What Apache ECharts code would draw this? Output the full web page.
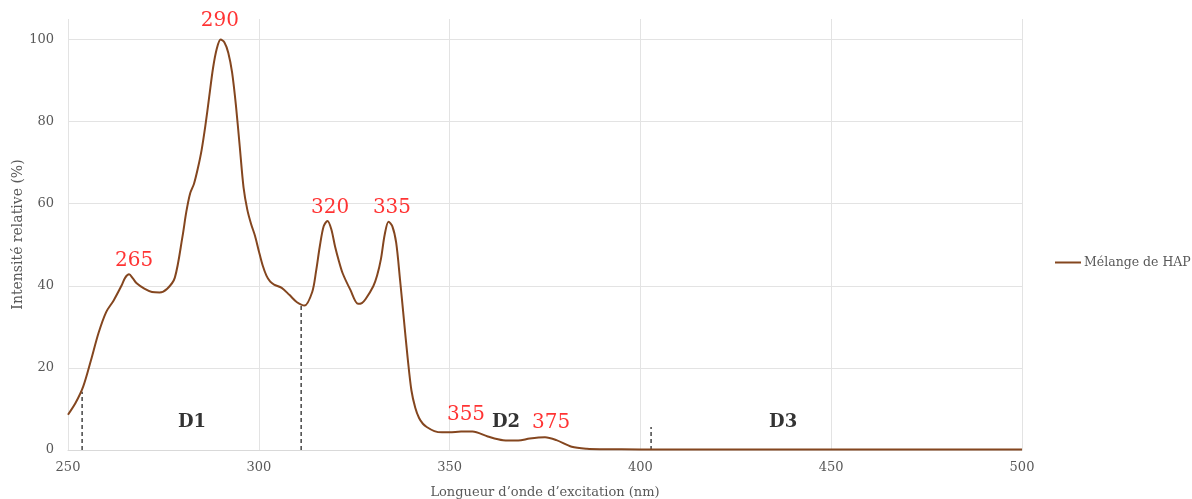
<!DOCTYPE html>
<html>
<head>
<meta charset="utf-8">
<script src="https://cdn.jsdelivr.net/npm/echarts@6/dist/echarts.min.js"></script>
<style>
html,body{margin:0;padding:0;background:#fff;}
#chart{width:1192px;height:499px;}
</style>
</head>
<body>
<div id="chart"></div>
<script>
// ---- data ----
const wavelengths = [250,252,254,256,258,260,262,264,265,266,267,268,270,272,274,276,278,280,281,282,283,284,285,286,287,288,289,290,291,292,293,294,295,296,297,298,299,300,301,302,303,304,306,308,310,312,314,315,316,317,318,319,320,321,322,324,326,327,328,330,331,332,333,334,335,336,337,338,339,340,341,342,343,344,346,348,350,353,356,360,364,368,371,375,378,382,386,390,400,450,500];
const intensity   = [8.6,11.5,15.5,21.8,28.5,33.6,36.5,40.0,42.0,42.8,41.8,40.6,39.3,38.5,38.4,39.3,42.0,52.0,58.0,62.5,64.8,68.5,73.0,79.0,86.0,93.0,97.8,100.0,99.3,96.8,92.0,84.0,74.0,64.0,58.5,55.0,52.2,48.5,45.0,42.5,41.0,40.3,39.5,37.8,36.0,35.2,38.5,43.5,49.7,54.5,55.8,53.8,49.5,46.0,43.0,39.0,35.6,35.8,36.8,39.9,42.5,46.5,52.5,55.6,54.5,50.5,41.6,32.0,22.5,14.5,10.3,7.8,6.4,5.6,4.6,4.3,4.3,4.5,4.5,3.3,2.4,2.3,2.8,3.1,2.4,0.8,0.3,0.2,0.15,0.1,0.1];
const seriesName = 'Mélange de HAP';

const peakLabels = ['265','290','320','335','355','375'];
const peakLabelX = [267.3,289.8,318.7,334.9,354.3,376.6];
const peakLabelY = [46.2,104.6,58.9,58.9,8.6,6.6];

const zoneLabels = ['D1','D2','D3'];
const zoneLabelX = [282.5,364.8,437.4];
const zoneLabelY = [6.8,6.8,6.8];

const dividerX   = [253.7,311.1,402.8];
const dividerTop = [14.2,35.5,5.6];

const xTicks = {min:250, max:500, step:50};
const yTicks = {min:0, max:105, step:20};

const xName = 'Longueur d’onde d’excitation (nm)';
const yName = 'Intensité relative (%)';

// ---- chart ----
const FONT = 'DejaVu Serif';
const chart = echarts.init(document.getElementById('chart'), null, {renderer:'canvas'});

const series = [{
  name: seriesName,
  type: 'line',
  data: wavelengths.map((w,i)=>[w,intensity[i]]),
  smooth: 0.3,
  showSymbol: false,
  symbol: 'none',
  lineStyle: {color:'#84461f', width:2},
  itemStyle: {color:'#84461f'},
  z: 5
}];

dividerX.forEach((x,i)=>{
  series.push({
    name: 'div'+i,
    type: 'line',
    data: [[x,0],[x,dividerTop[i]]],
    showSymbol: false,
    symbol: 'none',
    lineStyle: {color:'#444', width:1.5, type:[4,3]},
    z: 4,
    silent: true
  });
});

series.push({
  name: 'peaks',
  type: 'scatter',
  symbolSize: 0,
  clip: false,
  data: peakLabels.map((t,i)=>({name:t, value:[peakLabelX[i],peakLabelY[i]]})),
  label: {show:true, position:'inside', formatter:p=>p.name, color:'#ff0000', fontFamily:FONT, fontSize:20},
  z: 6
});
series.push({
  name: 'zones',
  type: 'scatter',
  symbolSize: 0,
  clip: false,
  data: zoneLabels.map((t,i)=>({name:t, value:[zoneLabelX[i],zoneLabelY[i]]})),
  label: {show:true, position:'inside', formatter:p=>p.name, color:'#000', fontFamily:FONT, fontSize:18, fontWeight:'bold'},
  z: 6
});

chart.setOption({
  animation: false,
  backgroundColor: '#fff',
  grid: {left:68, right:170, top:19, bottom:49, containLabel:false, outerBoundsMode:'none'},
  legend: {
    data: [seriesName],
    left: 1055, top: 256, padding: 0,
    icon: 'rect', itemWidth: 26, itemHeight: 2, itemGap: 4,
    textStyle: {fontFamily:FONT, fontSize:12.5, color:'#595959', padding:[0,0,0,-2]}
  },
  xAxis: {
    type: 'value', min: xTicks.min, max: xTicks.max, interval: xTicks.step,
    name: xName, nameLocation: 'middle', nameGap: 36, nameMoveOverlap: false,
    nameTextStyle: {fontFamily:FONT, fontSize:13, color:'#595959'},
    axisLine: {show:true, lineStyle:{color:'#d9d9d9', width:1}},
    axisTick: {show:false},
    axisLabel: {fontFamily:FONT, fontSize:13, color:'#595959', margin:11},
    splitLine: {show:true, lineStyle:{color:'#e3e3e3', width:1}}
  },
  yAxis: {
    type: 'value', min: yTicks.min, max: yTicks.max, interval: yTicks.step,
    name: yName, nameLocation: 'middle', nameGap: 43, nameMoveOverlap: false,
    nameTextStyle: {fontFamily:FONT, fontSize:14, color:'#595959'},
    axisLine: {show:false},
    axisTick: {show:false},
    axisLabel: {fontFamily:FONT, fontSize:13, color:'#595959', margin:14,
      formatter: v => (v % 20 === 0 ? String(v) : '')},
    splitLine: {show:true, showMaxLine:false, lineStyle:{color:'#e3e3e3', width:1}}
  },
  series: series
});
</script>
</body>
</html>
